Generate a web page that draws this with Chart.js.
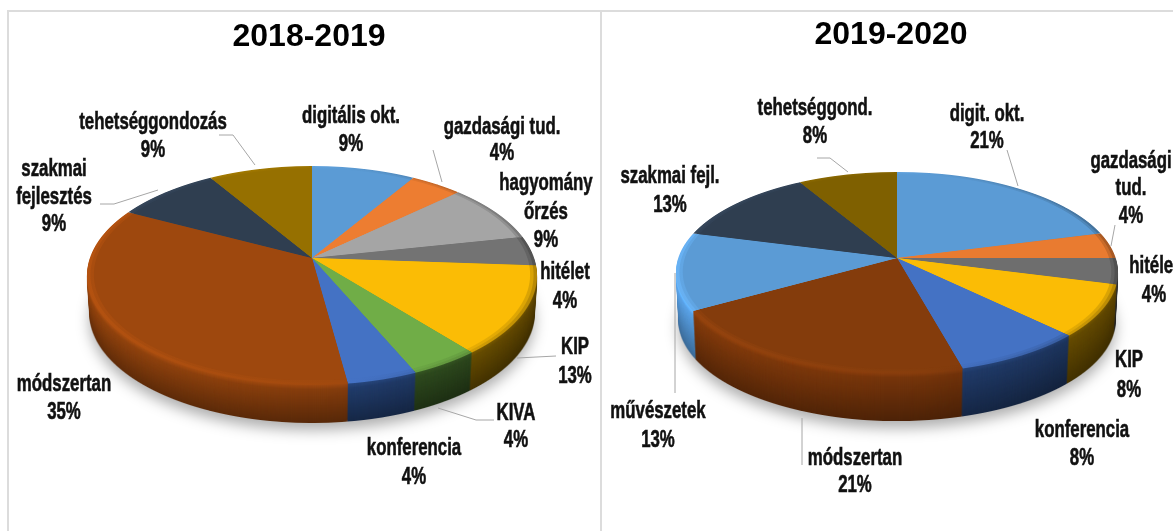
<!DOCTYPE html>
<html>
<head>
<meta charset="utf-8">
<style>
  html, body { margin: 0; padding: 0; background: #fff; overflow: hidden; width: 1173px; height: 531px; }
  canvas { position: absolute; top: 0; }
  .rule { position: absolute; background: #dcdcdc; }
</style>
<script src="https://cdn.jsdelivr.net/npm/chart.js@4"></script>
</head>
<body>
<div class="rule" style="left:8px;top:10px;width:1165px;height:2px"></div>
<div class="rule" style="left:7px;top:10px;width:2px;height:521px"></div>
<div class="rule" style="left:600px;top:10px;width:2px;height:521px"></div>
<canvas id="chartLeft" style="left:0"></canvas>
<canvas id="chartRight" style="left:600px"></canvas>
<script>
'use strict';

// ─── Data ─────────────────────────────────────────────────────────────────────

// Values are small counts that round to the printed percentages (out of 23 and 24)
const LEFT_NAMES  = ['digitális okt.', 'gazdasági tud.', 'hagyomány\nőrzés', 'hitélet', 'KIP', 'KIVA', 'konferencia', 'módszertan', 'szakmai\nfejlesztés', 'tehetséggondozás'];
const LEFT_VALUES = [2, 1, 2, 1, 3, 1, 1, 8, 2, 2];
const LEFT_FACE   = ['#5B9BD5', '#ED7D31', '#A5A5A5', '#737373', '#FBBC05', '#70AD47', '#4472C4', '#9E480E', '#2F3E50', '#967000'];
const LEFT_WALL   = ['#3A6A96', '#A04F1A', '#6E6E6E', '#4A4A4A', '#6E5200', '#2E4A1E', '#1F3864', '#7A380C', '#222C38', '#6E5200'];

const RIGHT_NAMES  = ['digit. okt.', 'gazdasági\ntud.', 'hitélet', 'KIP', 'konferencia', 'módszertan', 'művészetek', 'szakmai fejl.', 'tehetséggond.'];
const RIGHT_VALUES = [5, 1, 1, 2, 2, 5, 3, 3, 2];
const RIGHT_FACE   = ['#5B9BD5', '#E97B30', '#6E6E6E', '#FBBC05', '#4472C4', '#843C0C', '#5B9BD5', '#2F3E50', '#7F6000'];
const RIGHT_WALL   = ['#3A6A96', '#A04F1A', '#3A3A3A', '#6E5200', '#1F3864', '#6B300A', '#4A86BE', '#222C38', '#5A4400'];

// Label centres on the page, one [x, y] per text line
const LEFT_LABEL_POS = [
  [[351, 116], [351, 144]],
  [[502, 127], [502, 153]],
  [[546, 183], [546, 212], [546, 240]],
  [[565, 272], [565, 301]],
  [[575, 347], [575, 376]],
  [[516, 413], [516, 440]],
  [[414, 448], [414, 477]],
  [[64, 384], [64, 412]],
  [[54, 169], [54, 197], [54, 224]],
  [[153, 122], [153, 150]],
];
const RIGHT_LABEL_POS = [
  [[987, 114], [987, 141]],
  [[1131, 161], [1131, 188], [1131, 216]],
  [[1154, 266], [1154, 295]],
  [[1129, 360], [1129, 390]],
  [[1082, 430], [1082, 458]],
  [[855, 458], [855, 485]],
  [[658, 411], [658, 440]],
  [[670, 176], [670, 205]],
  [[815, 108], [815, 136]],
];

const LEFT_LEADERS = [
  [[433, 150], [442, 182]],
  [[219, 135], [233, 135], [255, 165]],
  [[100, 204], [114, 204], [158, 190]],
  [[556, 356], [517, 358]],
  [[494, 420], [476, 420], [438, 408]],
];
const RIGHT_LEADERS = [
  [[1007, 150], [1018, 186]],
  [[1115, 225], [1111, 246]],
  [[817, 158], [830, 158], [848, 172]],
  [[675, 273], [675, 393]],
  [[802, 418], [802, 465]],
];

// ─── Helpers ──────────────────────────────────────────────────────────────────

function shade(hex, f) {
  const n = parseInt(hex.slice(1), 16);
  const c = [n >> 16, (n >> 8) & 255, n & 255].map(v => Math.min(255, Math.round(v * f)));
  return `rgb(${c[0]},${c[1]},${c[2]})`;
}

function sideGradient(ctx, arc, hex, a, b, c) {
  const g = ctx.createLinearGradient(arc.x - arc.outerRadius, 0, arc.x + arc.outerRadius, 0);
  g.addColorStop(0, shade(hex, a));
  g.addColorStop(0.55, shade(hex, b));
  g.addColorStop(1, shade(hex, c));
  return g;
}

/**
 * Paint the library's arc elements row by row through a perspective mapping,
 * so the disc leans back: far slices get narrower, near slices wider.
 *
 * @param {Array}    fills  — one fill per arc
 * @param {number}   inset  — 1 for the whole disc, <1 for a smaller copy
 */
function drawTilted(ctx, chart, arcs, o, fills, inset) {
  const p = (o.ryFront - o.ryBack) / (o.ryFront + o.ryBack);
  const A = o.ryBack * (1 + p);
  const R = o.rx * Math.sqrt(1 - p * p);
  const ghosts = arcs.map((arc, i) => {
    const g = Object.create(arc);
    g.options = { ...arc.options, backgroundColor: fills[i] };
    return g;
  });
  const r = arcs[0].outerRadius;
  const ax = arcs[0].x;
  const ay = arcs[0].y;
  const top = Math.floor(o.cy - o.ryBack) - 1;
  const bottom = Math.ceil(o.cy + o.ryFront) + 1;

  for (let Y = top; Y < bottom; Y++) {
    const q = (Y + 0.5 - o.cy) / A;
    const w = 1 + p * q;
    const v = q / w / inset;
    if (Math.abs(v) > 1) continue;
    ctx.save();
    ctx.beginPath();
    ctx.rect(0, Y, chart.width, 1);
    ctx.clip();
    ctx.translate(o.cx, Y + 0.5);
    ctx.scale(R * w * inset / r, A * w * w * inset / r);
    ctx.translate(-ax, -(ay + v * r));
    ghosts.forEach(g => g.draw(ctx));
    ctx.restore();
  }
}

// ─── Plugins ──────────────────────────────────────────────────────────────────

const pie3d = {
  id: 'pie3d',
  beforeDatasetsDraw(chart, args, o) {
    const ctx = chart.ctx;
    const arcs = chart.getDatasetMeta(0).data;

    // Wall: one tilted disc in the wall colours, stamped downwards with falling brightness
    const sheet = document.createElement('canvas');
    sheet.width = chart.width;
    sheet.height = chart.height;
    const sctx = sheet.getContext('2d');
    drawTilted(sctx, chart, arcs, o, arcs.map((a, i) => sideGradient(sctx, a, o.wall[i], 1.12, 1, 0.76)), 1);

    ctx.save();
    ctx.beginPath();
    ctx.rect(0, o.cy + 1, chart.width, chart.height);
    ctx.clip();
    for (let k = o.depth; k >= 1; k--) {
      const t = k / o.depth;
      const f = 0.72 + 0.42 * (1 - t) + (k <= 5 ? 0.16 * (1 - k / 5) : 0);
      const taper = 1 - 0.012 * t;
      if (k === o.depth) {
        ctx.shadowColor = 'rgba(0,0,0,0.32)';
        ctx.shadowBlur = 14;
        ctx.shadowOffsetY = 7;
      } else {
        ctx.shadowColor = 'transparent';
      }
      ctx.filter = `brightness(${f})`;
      ctx.drawImage(sheet, o.cx * (1 - taper), k, chart.width * taper, chart.height);
    }
    ctx.restore();

    // Top face, with a soft rim: lit on the left, shaded on the right
    drawTilted(ctx, chart, arcs, o, arcs.map((a, i) => sideGradient(ctx, a, o.face[i], 1.14, 1.02, 0.72)), 1);
    drawTilted(ctx, chart, arcs, o, arcs.map((a, i) => sideGradient(ctx, a, o.face[i], 1.07, 1.01, 0.86)), 0.985);
    drawTilted(ctx, chart, arcs, o, o.face, 0.97);
    return false;
  },
};

const pieLabels = {
  id: 'pieLabels',
  afterDraw(chart, args, o) {
    const ctx = chart.ctx;
    const values = chart.data.datasets[0].data;
    const total = values.reduce((a, b) => a + b, 0);
    ctx.save();
    ctx.translate(-o.pageX, 0);

    ctx.strokeStyle = '#a6a6a6';
    ctx.lineWidth = 1;
    o.leaders.forEach(line => {
      ctx.beginPath();
      line.forEach(([x, y], i) => (i ? ctx.lineTo(x, y) : ctx.moveTo(x, y)));
      ctx.stroke();
    });

    // No condensed face is installed, so the bold face is squeezed sideways
    ctx.fillStyle = '#111';
    ctx.strokeStyle = '#111';
    ctx.lineWidth = 0.6;
    ctx.font = "bold 24px 'Liberation Sans', sans-serif";
    ctx.textAlign = 'center';
    ctx.textBaseline = 'middle';
    chart.data.labels.forEach((name, i) => {
      const lines = name.split('\n').concat(`${Math.round(values[i] / total * 100)}%`);
      lines.forEach((text, j) => {
        ctx.save();
        ctx.translate(o.pos[i][j][0], o.pos[i][j][1]);
        ctx.scale(0.7, 1);
        ctx.fillText(text, 0, 0);
        ctx.strokeText(text, 0, 0);
        ctx.restore();
      });
    });
    ctx.restore();
  },
};

// ─── Chart factory ────────────────────────────────────────────────────────────

function buildPie(id, width, cfg) {
  const canvas = document.getElementById(id);
  canvas.width = width;
  canvas.height = 531;
  return new Chart(canvas.getContext('2d'), {
    type: 'pie',
    data: {
      labels: cfg.names,
      datasets: [{ data: cfg.values, backgroundColor: cfg.face, borderWidth: 0 }],
    },
    plugins: [pie3d, pieLabels],
    options: {
      animation: false,
      responsive: false,
      radius: cfg.shape.rx,
      plugins: {
        legend: { display: false },
        tooltip: { enabled: false },
        title: {
          display: true,
          text: cfg.title,
          color: '#000',
          font: { family: "'Liberation Sans', Arial, sans-serif", size: 32, weight: 'bold' },
          padding: { top: cfg.titleTop, bottom: 2 },
        },
        pie3d: { ...cfg.shape, face: cfg.face, wall: cfg.wall },
        pieLabels: { pageX: cfg.pageX, pos: cfg.pos, leaders: cfg.leaders },
      },
    },
  });
}

buildPie('chartLeft', 618, {
  title: '2018-2019', titleTop: 18, pageX: 0,
  names: LEFT_NAMES, values: LEFT_VALUES, face: LEFT_FACE, wall: LEFT_WALL,
  pos: LEFT_LABEL_POS, leaders: LEFT_LEADERS,
  shape: { cx: 312, cy: 258, rx: 225, ryBack: 92, ryFront: 127, depth: 38 },
});

buildPie('chartRight', 582, {
  title: '2019-2020', titleTop: 16, pageX: 600,
  names: RIGHT_NAMES, values: RIGHT_VALUES, face: RIGHT_FACE, wall: RIGHT_WALL,
  pos: RIGHT_LABEL_POS, leaders: RIGHT_LEADERS,
  shape: { cx: 297, cy: 258, rx: 221, ryBack: 86, ryFront: 115, depth: 48 },
});
</script>
</body>
</html>
